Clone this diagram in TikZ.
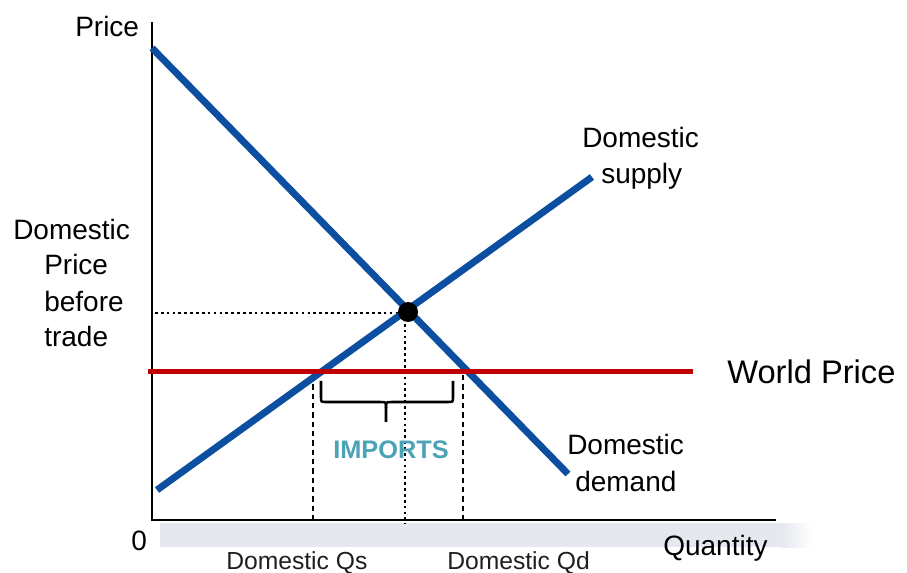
\documentclass[tikz,border=0pt]{standalone}
\usepackage{fontspec}
\setmainfont{Liberation Sans}
\definecolor{curveblue}{RGB}{12,78,160}
\definecolor{worldred}{RGB}{192,0,0}
\definecolor{importteal}{RGB}{75,163,181}
\definecolor{bandgray}{RGB}{229,232,239}
\tikzset{
  axisline/.style={line width=1.9pt},
  curve/.style={curveblue, line width=5.2pt},
  worldline/.style={worldred, line width=3.75pt},
  guide/.style={line width=2.1pt, dash pattern=on 2pt off 2.4pt},
  qguide/.style={line width=0.9pt, dash pattern=on 4pt off 3pt},
  lbl/.style={anchor=base west, inner sep=0pt, font=\fontsize{21}{25}\selectfont},
  qlbl/.style={anchor=base west, inner sep=0pt, font=\fontsize{18.5}{22}\selectfont, text=black!88},
}
\begin{document}
\begin{tikzpicture}[x=0.75pt,y=-0.75pt]
\useasboundingbox (0,0) rectangle (907,573);
% light band under the quantity axis
\fill[bandgray] (160,523) rectangle (782,547);
\shade[left color=bandgray, right color=white] (781,523) rectangle (812,547);

% key points
\coordinate (O) at (152,520);
\coordinate (ytop) at (152,22);
\coordinate (xend) at (776,520);
\coordinate (dA) at (152,48);
\coordinate (dB) at (568,474);
\coordinate (sA) at (157,490);
\coordinate (sB) at (592,177);
\coordinate (wA) at (148,372);
\coordinate (wB) at (693,372);
\coordinate (E) at (408,312);
\coordinate (pE) at (155,313);
\coordinate (pEend) at (400,313);
\coordinate (qEtop) at (405,318);
\coordinate (qE) at (405,524);
\coordinate (qsTop) at (313,375);
\coordinate (qsBot) at (313,520);
\coordinate (qdTop) at (463,375);
\coordinate (qdBot) at (463,520);

% guide lines
\draw[guide] (pE) -- (pEend);
\draw[guide] (qEtop) -- (qE);
\draw[qguide] (qsTop) -- (qsBot);
\draw[qguide] (qdTop) -- (qdBot);

% axes
\draw[axisline] (ytop) -- (O |- xend) -- (xend);

% curves
\draw[curve] (dA) -- (dB);
\draw[curve] (sA) -- (sB);
\draw[worldline] (wA) -- (wB);
\fill (E) circle[radius=10];

% brace over the import gap
\draw[line width=1.9pt]
  (321,381) -- (321,397) .. controls (321,402) .. (326,402) -- (380,402)
  .. controls (386,402) .. (386,408) -- (386,422);
\draw[line width=1.9pt]
  (386,408) .. controls (386,402) .. (392,402) -- (448,402)
  .. controls (453,402) .. (453,397) -- (453,381);

% labels
\node[lbl] (price) at (75,37) {Price};
\node[lbl] (dp1) at (13,240) {Domestic};
\node[lbl] (dp2) at (44,275) {Price};
\node[lbl] (dp3) at (44,312) {before};
\node[lbl] (dp4) at (44,347) {trade};
\node[lbl] (ds1) at (582,148) {Domestic};
\node[lbl] (ds2) at (601,184) {supply};
\node[lbl] (dd1) at (567,455) {Domestic};
\node[lbl] (dd2) at (575,492) {demand};
\node[anchor=base west, inner sep=0pt, font=\fontsize{24.5}{28}\selectfont] (wp) at (727,384) {World Price};
\node[lbl] (qty) at (663,555) {Quantity};
\node[lbl] (zero) at (131,550) {0};
\node[qlbl] (qs) at (226,569) {Domestic Qs};
\node[qlbl] (qd) at (447,569) {Domestic Qd};
\node[inner sep=0pt, font=\bfseries\fontsize{19}{22}\selectfont, text=importteal] (imp) at (391,450) {IMPORTS};
\end{tikzpicture}
\end{document}
